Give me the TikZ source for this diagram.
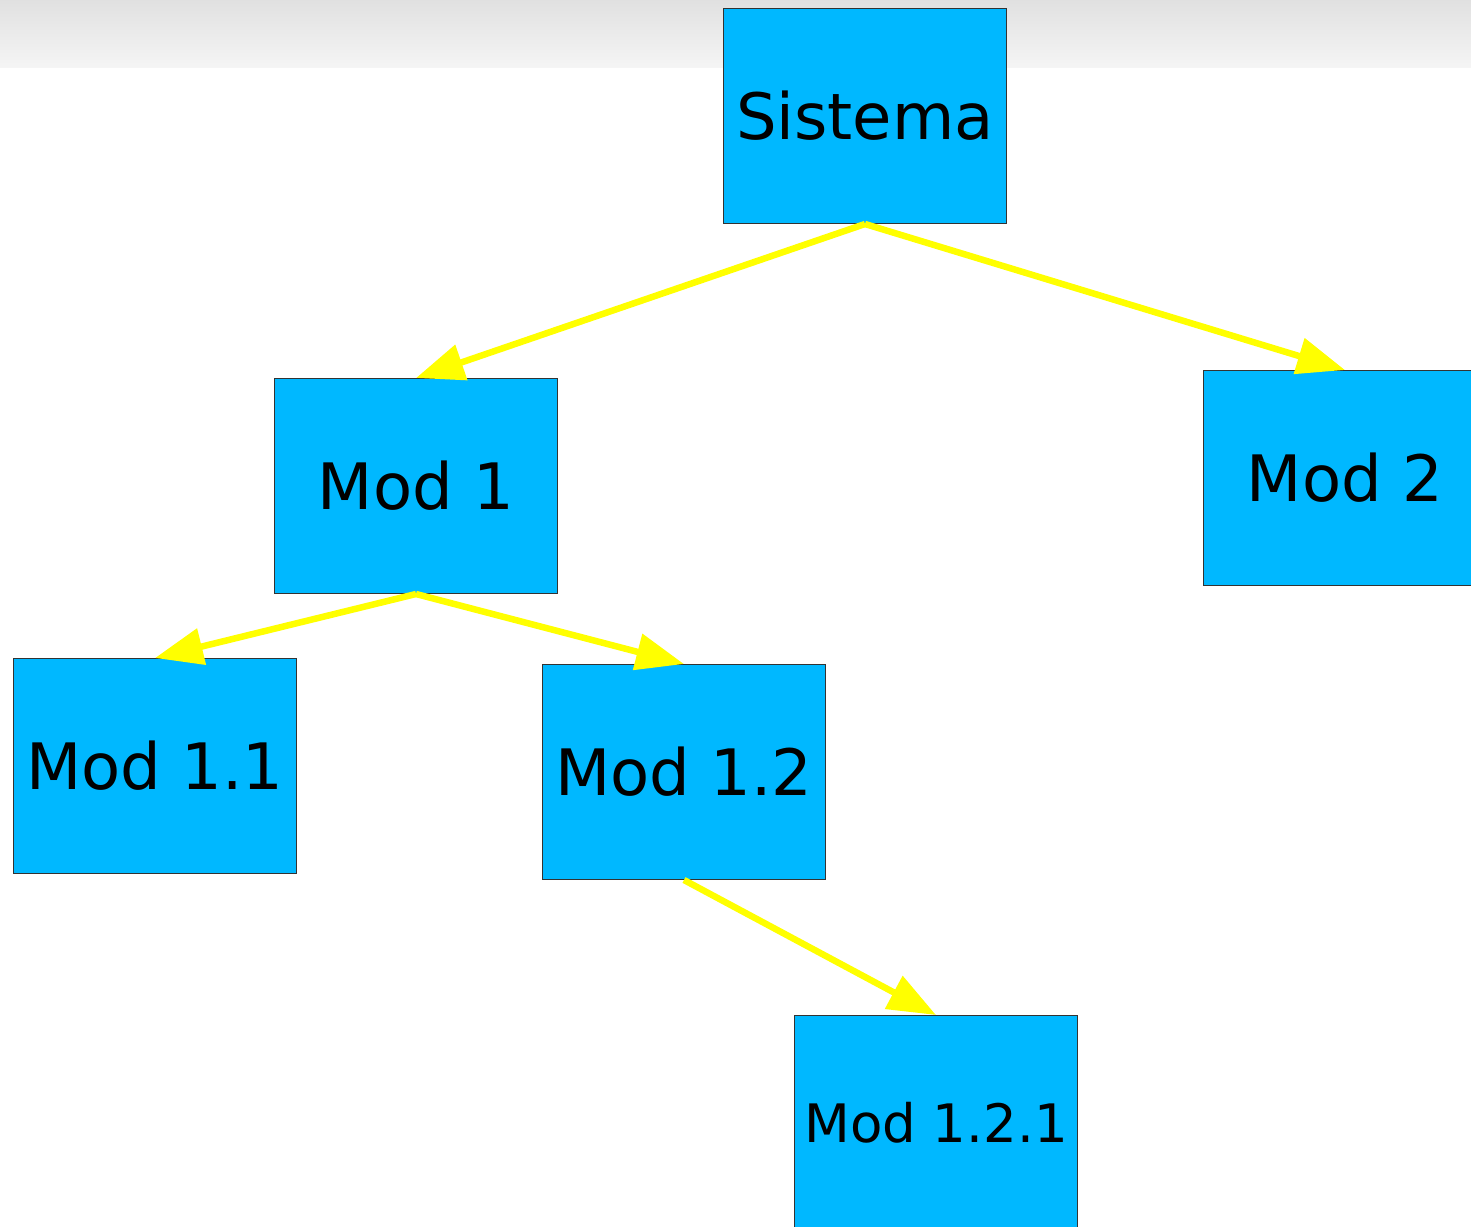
\documentclass[tikz,border=0pt]{standalone}
\usepackage{fontspec}
\setmainfont{DejaVu Sans}
\usetikzlibrary{arrows.meta}
\definecolor{boxblue}{HTML}{00B8FF}
\definecolor{edgeyellow}{HTML}{FFFF00}
\definecolor{boxline}{HTML}{333333}
\begin{document}
\begin{tikzpicture}[x=1pt,y=-1pt,
  modbox/.style={draw=boxline,line width=1pt,fill=boxblue,minimum width=283pt,minimum height=215pt,inner sep=0pt,font=\fontsize{64}{70}\selectfont},
  smallbox/.style={modbox,font=\fontsize{53}{60}\selectfont},
  link/.style={draw=edgeyellow,line width=6.5pt,-{Triangle[length=48pt,width=36pt]}}]
\useasboundingbox (0,0) rectangle (1471,1226);
\clip (0,0) rectangle (1471,1226);
\shade[top color=black!12,bottom color=black!4] (0,0) rectangle (1471,67);
\node[modbox] (s) at (865,116) {Sistema};
\node[modbox] (m1) at (416,486) {Mod 1};
\node[modbox] (m2) at (1345,478) {Mod 2};
\node[modbox] (m11) at (155,766) {Mod 1.1};
\node[modbox] (m12) at (684,772) {Mod 1.2};
\node[smallbox] (m121) at (936,1123) {Mod 1.2.1};
\draw[link] (s.south) -- (m1.north);
\draw[link] (s.south) -- (m2.north);
\draw[link] (m1.south) -- (m11.north);
\draw[link] (m1.south) -- (m12.north);
\draw[link] (m12.south) -- (m121.north);
\end{tikzpicture}
\end{document}
